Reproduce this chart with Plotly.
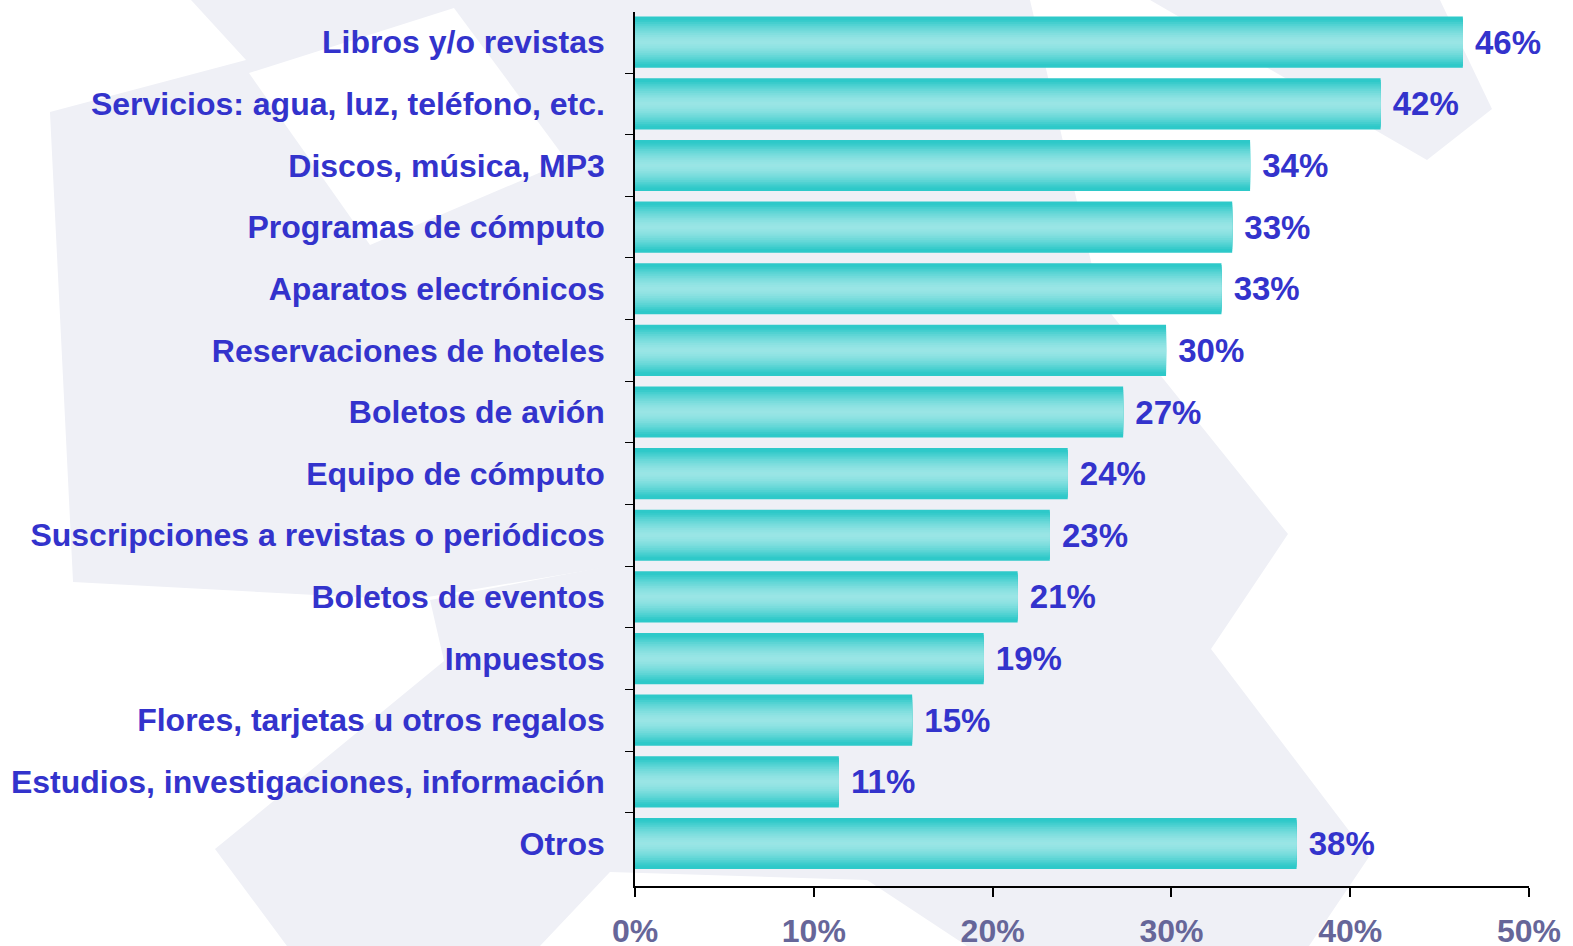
import plotly.graph_objects as go

# ---------------- data ----------------
categories = [
    "Libros y/o revistas",
    "Servicios: agua, luz, teléfono, etc.",
    "Discos, música, MP3",
    "Programas de cómputo",
    "Aparatos electrónicos",
    "Reservaciones de hoteles",
    "Boletos de avión",
    "Equipo de cómputo",
    "Suscripciones a revistas o periódicos",
    "Boletos de eventos",
    "Impuestos",
    "Flores, tarjetas u otros regalos",
    "Estudios, investigaciones, información",
    "Otros",
]
values = [46.3, 41.7, 34.4, 33.4, 32.8, 29.7, 27.3, 24.2, 23.2, 21.4, 19.5, 15.5, 11.4, 37.0]
value_labels = ["46%", "42%", "34%", "33%", "33%", "30%", "27%", "24%", "23%", "21%", "19%", "15%", "11%", "38%"]
x_ticks = [0, 10, 20, 30, 40, 50]
x_tick_labels = ["0%", "10%", "20%", "30%", "40%", "50%"]

# ---------------- style ----------------
W, H = 1573, 946
ML, MR, MT, MB = 635, 44, 12, 60
FONT = "Liberation Sans, Arial, Helvetica, sans-serif"
LABEL_BLUE = "#3333CC"
TICK_GRAY = "#666699"
DARK = (46, 201, 201)
LIGHT = (155, 230, 230)
BAR_W = 0.83
N_LAYERS = 14

fig = go.Figure()

# cylinder-like shading: stacked overlay bars of decreasing thickness
for k in range(N_LAYERS):
    r = 1 - k / N_LAYERS          # 1 at edge, ->0 toward centre
    f = min(1.0, r ** 1.6 * 1.15)
    col = tuple(int(LIGHT[i] + (DARK[i] - LIGHT[i]) * f) for i in range(3))
    fig.add_trace(go.Bar(
        y=categories, x=values, orientation="h",
        width=BAR_W * r,
        marker=dict(color="rgb(%d,%d,%d)" % col, line=dict(width=0)),
        hoverinfo="skip", showlegend=False,
    ))

# value labels
fig.add_trace(go.Bar(
    y=categories, x=values, orientation="h", width=BAR_W,
    marker=dict(color="rgba(0,0,0,0)", line=dict(width=0)),
    text=value_labels, texttemplate=" %{text}", textposition="outside",
    cliponaxis=False,
    textfont=dict(family=FONT, size=33, color=LABEL_BLUE, weight="bold"),
    showlegend=False,
))

# faint watermark polygons in the background (pixel -> paper coords)
def px2paper(pts):
    pw, ph = W - ML - MR, H - MT - MB
    return [((x - ML) / pw, (H - MB - y) / ph) for x, y in pts]

GRAY = "#EFF0F6"
watermark = [
    (GRAY, [(50, 112), (246, 60), (191, 0), (720, 0), (650, 560), (410, 600), (73, 582)]),
    ("white", [(249, 73), (454, 8), (567, 161), (370, 245)]),
    (GRAY, [(430, 600), (640, 560), (880, 800), (867, 880), (610, 872), (540, 946), (287, 946), (215, 849), (444, 661)]),
    (GRAY, [(700, 0), (1030, 0), (1100, 300), (1288, 534), (1211, 649), (1369, 857), (1309, 946), (967, 946), (867, 880), (640, 560)]),
    (GRAY, [(1150, 0), (1440, 0), (1492, 109), (1427, 160)]),
]
shapes = []
for color, poly in watermark:
    pp = px2paper(poly)
    path = "M " + " L ".join("%.4f,%.4f" % p for p in pp) + " Z"
    shapes.append(dict(type="path", path=path, xref="paper", yref="paper",
                       fillcolor=color, line=dict(width=0), layer="below"))

fig.update_layout(
    width=W, height=H,
    margin=dict(l=ML, r=MR, t=MT, b=MB, autoexpand=False),
    barmode="overlay",
    paper_bgcolor="white", plot_bgcolor="rgba(0,0,0,0)",
    shapes=shapes,
    font=dict(family=FONT),
    xaxis=dict(
        range=[0, 50], tickvals=x_ticks, ticktext=x_tick_labels,
        showgrid=False, zeroline=False, automargin=False,
        showline=True, linecolor="black", linewidth=1.5,
        ticks="outside", ticklen=9, tickcolor="black", tickwidth=1.5,
        ticklabelstandoff=7,
        tickfont=dict(family=FONT, size=32, color=TICK_GRAY, weight="bold"),
    ),
    yaxis=dict(
        categoryorder="array", categoryarray=categories,
        range=[13.69, -0.49],
        showgrid=False, zeroline=False, automargin=False,
        showline=True, linecolor="black", linewidth=1.5,
        ticks="outside", ticklen=8, tickcolor="black", tickwidth=1.2,
        tickson="boundaries", ticklabelstandoff=22,
        tickfont=dict(family=FONT, size=32, color=LABEL_BLUE, weight="bold"),
    ),
)

fig.write_html(
    "out.html",
    config={"displayModeBar": False},
    post_script="document.body.style.margin='0';document.body.style.overflow='hidden';",
)
